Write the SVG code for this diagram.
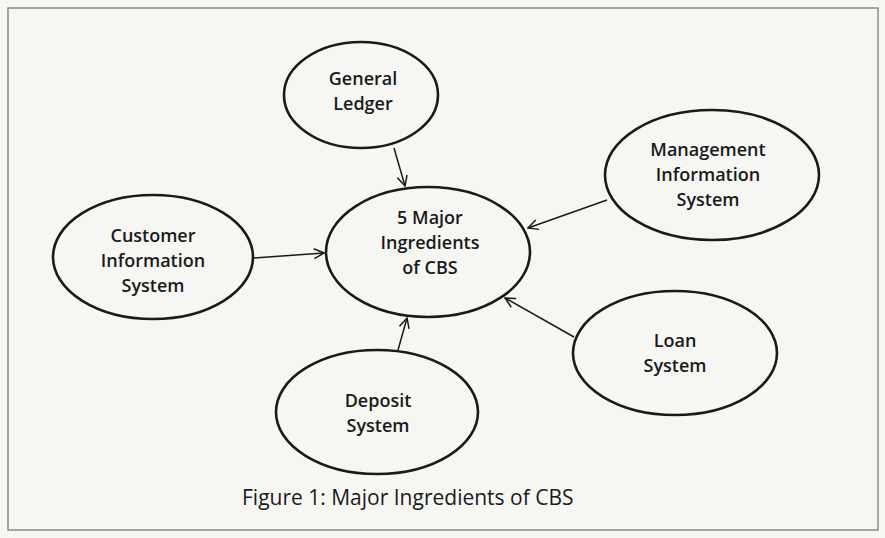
<svg xmlns="http://www.w3.org/2000/svg" width="885" height="538" viewBox="0 0 885 538">
<style>
.bg{fill:#f6f6f3}
.frame{fill:none;stroke:#8a8a8a;stroke-width:1.5}
.node ellipse{fill:none;stroke:#1a1a1a;stroke-width:2.6}
.node text{font-family:"Open Sans","Noto Sans",sans-serif;font-size:18px;font-weight:600;fill:#1a1a1a;text-anchor:middle}
.conn line{stroke:#1a1a1a;stroke-width:1.5;marker-end:url(#arr)}
.cap{font-family:"Open Sans","Noto Sans",sans-serif;font-size:21px;fill:#1a1a1a}
</style>
<defs>
<marker id="arr" viewBox="0 0 12 12" refX="11" refY="6" markerWidth="12" markerHeight="12" markerUnits="userSpaceOnUse" orient="auto">
<path d="M1,1 L11,6 L1,11" fill="none" stroke="#1a1a1a" stroke-width="1.5"/>
</marker>
</defs>
<rect class="bg" x="0" y="0" width="885" height="538"/>
<rect class="frame" x="8" y="8" width="870" height="522"/>
<g id="connectors" class="conn">
<line x1="394" y1="148" x2="405" y2="186"/>
<line x1="254" y1="258" x2="324" y2="253"/>
<line x1="607" y1="200" x2="528" y2="228"/>
<line x1="574" y1="337" x2="505" y2="298"/>
<line x1="398" y1="350" x2="407" y2="318"/>
</g>
<g id="center" class="node">
<ellipse cx="428" cy="252" rx="102" ry="65"/>
<text x="430" y="224">5 Major</text>
<text x="430" y="249">Ingredients</text>
<text x="430" y="274">of CBS</text>
</g>
<g id="general-ledger" class="node">
<ellipse cx="361" cy="95" rx="77" ry="53"/>
<text x="363" y="85">General</text>
<text x="363" y="110">Ledger</text>
</g>
<g id="customer" class="node">
<ellipse cx="153" cy="257" rx="100" ry="62"/>
<text x="153" y="242">Customer</text>
<text x="153" y="267">Information</text>
<text x="153" y="292">System</text>
</g>
<g id="mis" class="node">
<ellipse cx="712" cy="175" rx="107" ry="65"/>
<text x="708" y="156">Management</text>
<text x="708" y="181">Information</text>
<text x="708" y="206">System</text>
</g>
<g id="loan" class="node">
<ellipse cx="675" cy="353" rx="102" ry="62"/>
<text x="675" y="347">Loan</text>
<text x="675" y="372">System</text>
</g>
<g id="deposit" class="node">
<ellipse cx="377" cy="412" rx="101" ry="62"/>
<text x="378" y="407">Deposit</text>
<text x="378" y="432">System</text>
</g>
<text class="cap" x="242" y="505">Figure 1: Major Ingredients of CBS</text>
</svg>
